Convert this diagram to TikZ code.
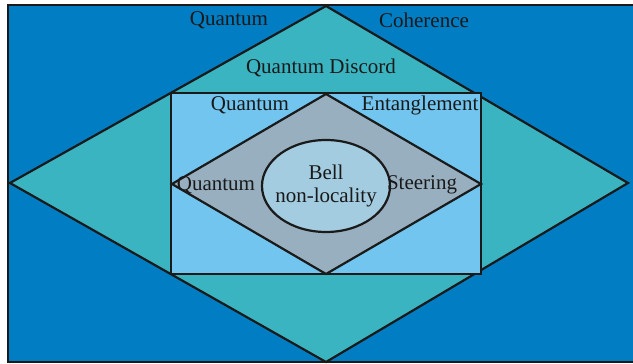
\documentclass[tikz,border=0pt]{standalone}
\usepackage{fontspec}
\setmainfont{Liberation Serif}
\definecolor{outerblue}{HTML}{007DC3}
\definecolor{teal2}{HTML}{3BB4C1}
\definecolor{lightblue}{HTML}{72C5EF}
\definecolor{grayblue}{HTML}{98AFBF}
\definecolor{ellblue}{HTML}{A3CCE0}
\definecolor{lineblack}{HTML}{1A1A1A}
\begin{document}
\begin{tikzpicture}[x=1pt,y=-1pt,
  edge/.style={draw=lineblack,line width=2.2pt,line join=miter},
  lbl/.style={font=\fontsize{21}{23}\selectfont,text=black!90,inner sep=0pt}]
\useasboundingbox (0,0) rectangle (633,364);
\clip (0,0) rectangle (633,364);
% outer rectangle
\path[edge,fill=outerblue] (8,5) rectangle (650,362);
% outer diamond
\coordinate (dt) at (326,6);
\coordinate (dl) at (10,183);
\coordinate (db) at (326,362);
\coordinate (dr) at (628,183);
\path[edge,fill=teal2] (dt) -- (dr) -- (db) -- (dl) -- cycle;
% rectangle
\path[edge,fill=lightblue] (171,93) rectangle (481,274);
% inner diamond
\coordinate (it) at (326,94);
\coordinate (il) at (172,184);
\coordinate (ib) at (326,274);
\coordinate (ir) at (481,184);
\path[edge,fill=grayblue] (it) -- (ir) -- (ib) -- (il) -- cycle;
% ellipse
\path[edge,fill=ellblue] (326,186) ellipse [x radius=64, y radius=46];
% labels
\node[lbl] (qc1) at (229,20) {Quantum};
\node[lbl] (qc2) at (424,20) {Coherence};
\node[lbl] (qd) at (321,68) {Quantum Discord};
\node[lbl] (qe1) at (250,105) {Quantum};
\node[lbl] (qe2) at (420,105) {Entanglement};
\node[lbl] (qs1) at (216,185) {Quantum};
\node[lbl] (qs2) at (422,185) {Steering};
\node[lbl] (b1) at (326,172) {Bell};
\node[lbl] (b2) at (326,197) {non-locality};
\end{tikzpicture}
\end{document}
